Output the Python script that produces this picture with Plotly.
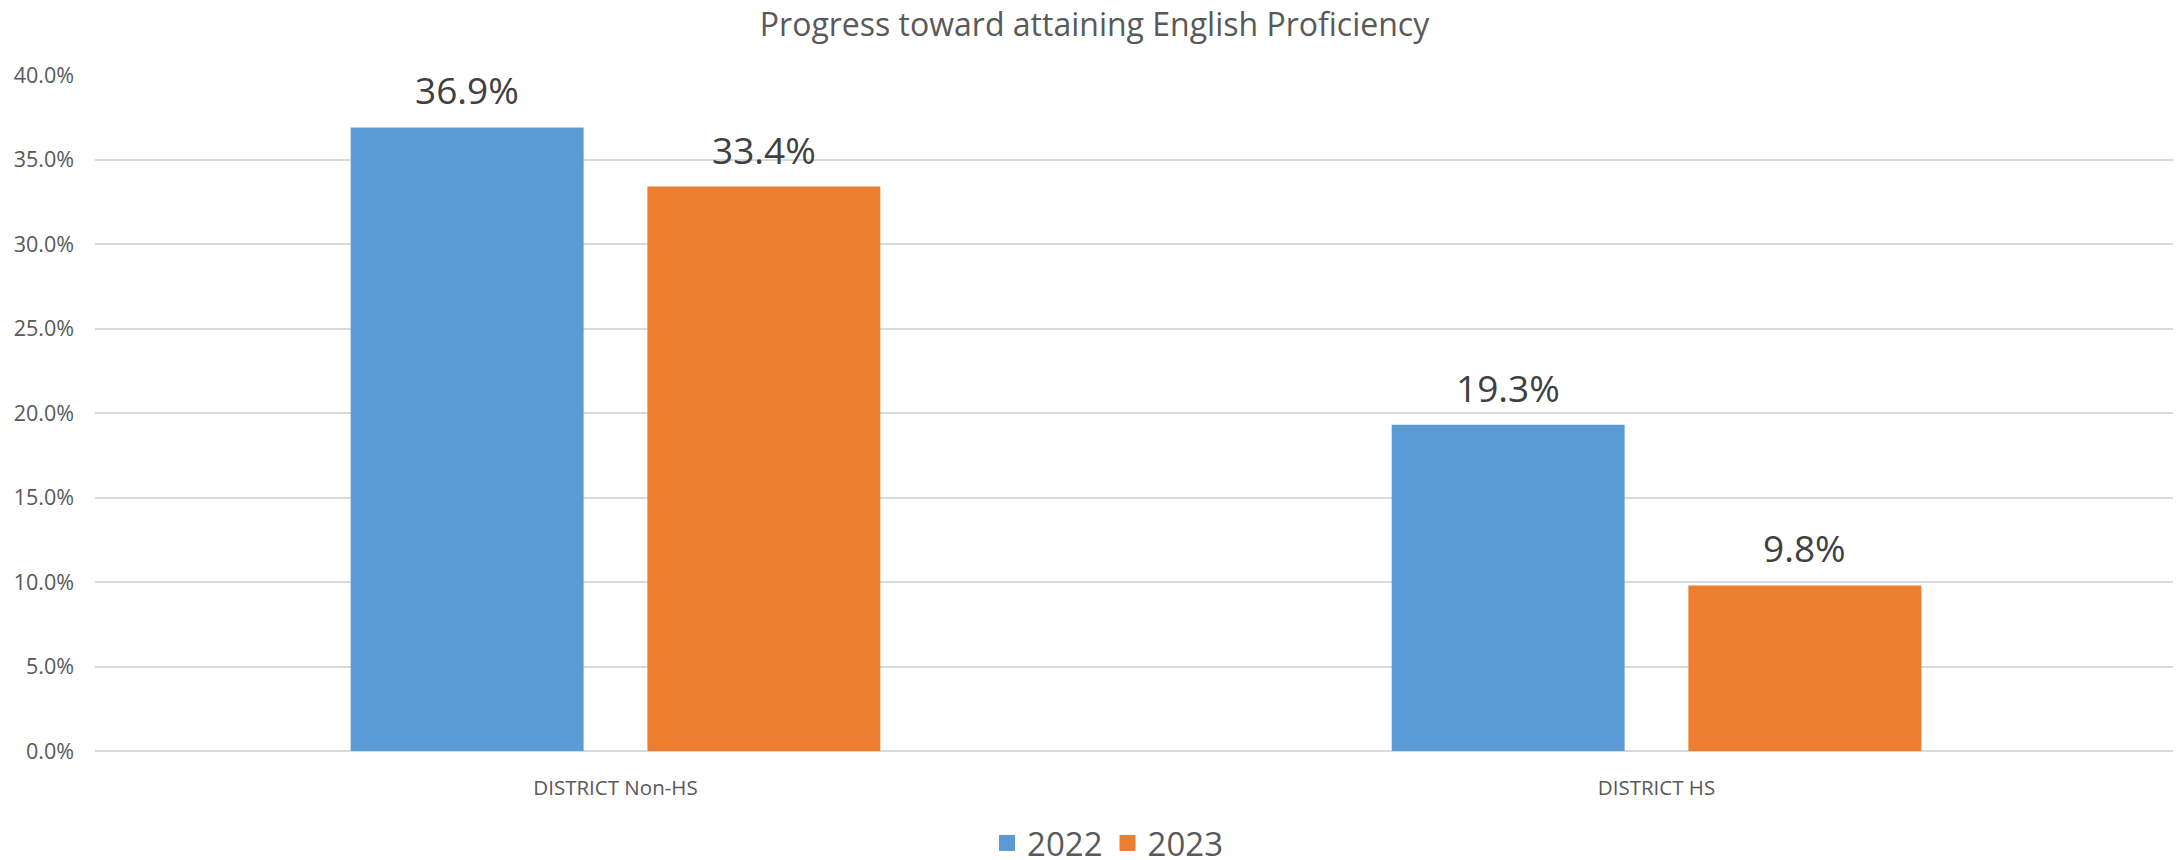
import plotly.graph_objects as go

categories = ["DISTRICT Non-HS", "DISTRICT HS"]
series_names = ["2022", "2023"]
values_2022 = [0.369, 0.193]
values_2023 = [0.334, 0.098]
tick_vals = [0, 0.05, 0.10, 0.15, 0.20, 0.25, 0.30, 0.35, 0.40]
tick_text = ["0.0%", "5.0%", "10.0%", "15.0%", "20.0%", "25.0%", "30.0%", "35.0%", "40.0%"]

colors = ["#5B9BD5", "#ED7D31"]
FONT = "Open Sans, Noto Sans, sans-serif"

fig = go.Figure()
for name, vals, col in zip(series_names, [values_2022, values_2023], colors):
    fig.add_trace(go.Bar(x=categories, y=vals, name=name, showlegend=False,
                         marker=dict(color=col, line=dict(width=0))))
# legend entries with larger square swatches
for name, col in zip(series_names, colors):
    fig.add_trace(go.Scatter(x=[None], y=[None], mode="markers", name=name,
                             marker=dict(symbol="square", size=20, color=col)))

# page body adds an 8px margin; figure offset accordingly
W, H = 2173, 852
ml, mr, mt, mb = 87, 4, 67, 109
plot_w = W - ml - mr
cat_w = plot_w / len(categories)
bargap = 0.43
slot = cat_w * (1 - bargap) / 2

annotations = []
for i, vals in enumerate([values_2022, values_2023]):
    off = (i - 0.5) * slot
    for c, v in zip(categories, vals):
        annotations.append(dict(
            x=c, y=v, xref="x", yref="y", text=f"{v*100:.1f}%", showarrow=False,
            xshift=off, yanchor="bottom", yshift=10,
            font=dict(family=FONT, size=37, color="#404040")))

fig.update_layout(
    width=W, height=H,
    margin=dict(l=ml, r=mr, t=mt, b=mb),
    paper_bgcolor="white", plot_bgcolor="white",
    barmode="group", bargap=bargap, bargroupgap=0.215,
    title=dict(text="Progress toward attaining English Proficiency", x=0.5, xref="container",
               xanchor="center", y=1 - 17 / H, yref="container", yanchor="middle",
               font=dict(family=FONT, size=32, color="#595959")),
    xaxis=dict(showgrid=False, showline=False, ticks="", ticklabelstandoff=22,
               tickfont=dict(family=FONT, size=20.5, color="#595959")),
    yaxis=dict(range=[0, 0.40], tickvals=tick_vals, ticktext=tick_text,
               showgrid=True, gridcolor="#D9D9D9", gridwidth=2,
               zeroline=True, zerolinecolor="#D9D9D9", zerolinewidth=2,
               showline=False, ticks="", ticklabelstandoff=20,
               tickfont=dict(family=FONT, size=21.5, color="#595959")),
    legend=dict(orientation="h", x=0.506, xanchor="center", xref="container",
                y=1 - 835 / H, yanchor="middle", yref="container",
                font=dict(family=FONT, size=33, color="#595959"),
                itemwidth=30, traceorder="normal"),
    annotations=annotations,
    showlegend=True,
)

fig.write_html("out.html")
